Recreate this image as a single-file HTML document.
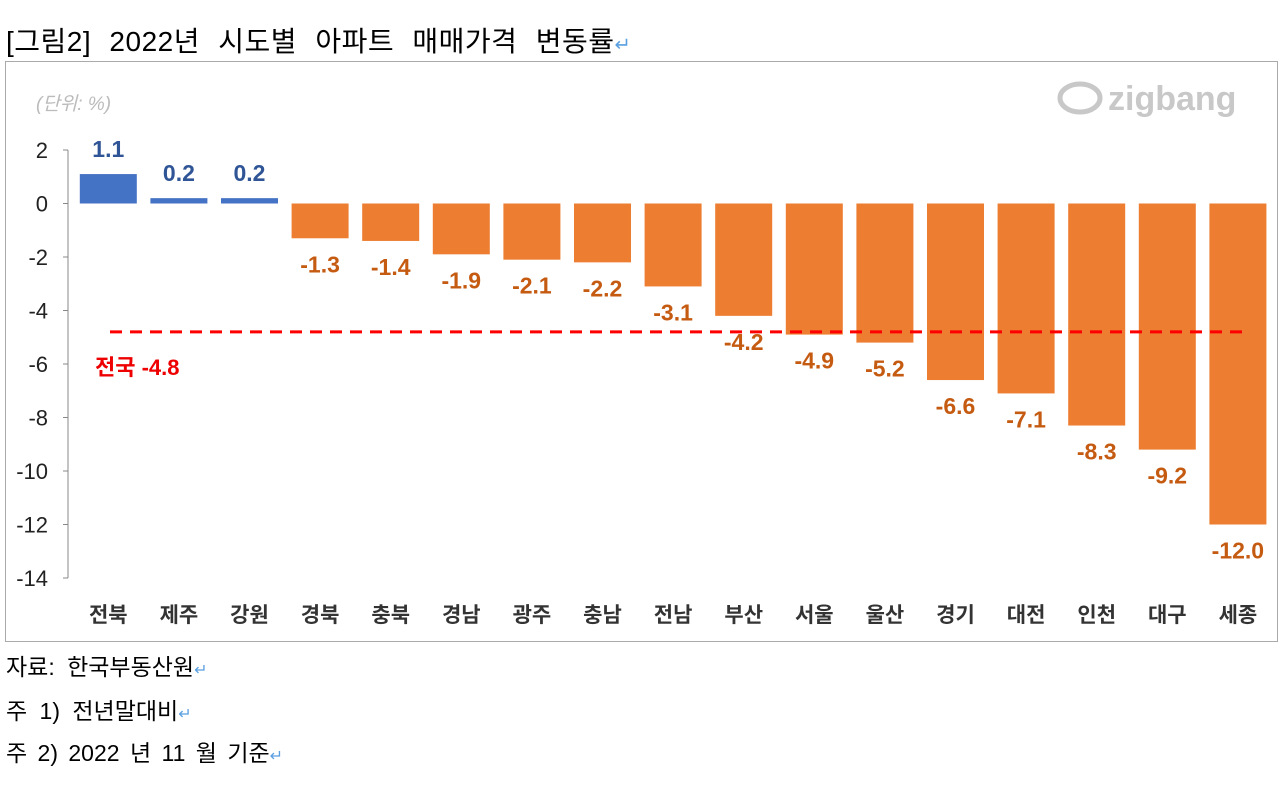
<!DOCTYPE html>
<html><head><meta charset="utf-8"><style>
body{margin:0;background:#fff;width:1284px;height:787px;overflow:hidden;font-family:"Liberation Sans","Noto Sans CJK KR",sans-serif}
.t{position:absolute;left:6px;color:#000;white-space:nowrap}
.ret{color:#5aa0e0;font-size:0.7em}
</style></head><body>
<div class="t" style="top:20px;font-size:28px;word-spacing:10px;letter-spacing:0.5px">[그림2] 2022년 시도별 아파트 매매가격 변동률<span class="ret">↵</span></div>
<svg width="1284" height="787" style="position:absolute;left:0;top:0">
<rect x="5.5" y="61.5" width="1272" height="580" fill="none" stroke="#aaa"/>
<g id="g"></g>
</svg>
<div class="t" style="top:648px;font-size:23px;word-spacing:6px">자료: 한국부동산원<span class="ret">↵</span></div>
<div class="t" style="top:692px;font-size:23px;word-spacing:6px">주 1) 전년말대비<span class="ret">↵</span></div>
<div class="t" style="top:734px;font-size:23px;word-spacing:4px">주 2) 2022 년 11 월 기준<span class="ret">↵</span></div>
<script>
const categories=["전북","제주","강원","경북","충북","경남","광주","충남","전남","부산","서울","울산","경기","대전","인천","대구","세종"];
const values=[1.1,0.2,0.2,-1.3,-1.4,-1.9,-2.1,-2.2,-3.1,-4.2,-4.9,-5.2,-6.6,-7.1,-8.3,-9.2,-12.0];
const ticks=[2,0,-2,-4,-6,-8,-10,-12,-14];
const nationalAvg=-4.8;
const NS="http://www.w3.org/2000/svg",g=document.getElementById('g');
const y0=150,pxu=26.75,yMax=2;
const y=v=>y0+(yMax-v)*pxu;
const left=73,band=70.6,bw=57;
const x=i=>left+band*i+band/2;
function mk(t,a,txt){const e=document.createElementNS(NS,t);for(const k in a)e.setAttribute(k,a[k]);if(txt!==undefined)e.textContent=txt;g.appendChild(e);return e;}
let e=mk('line',{x1:68,y1:y(2),x2:68,y2:y(-14),stroke:'#888'});


ticks.forEach(t=>{
 let l=mk('line',{x1:63,x2:68,y1:y(t),y2:y(t),stroke:'#888'});
 
 
 let tx=mk('text',{x:48,y:y(t)+8,'text-anchor':'end','font-size':22,fill:'#222'},t);
 
 
});
let u=mk('text',{x:36,y:110,'font-size':19,'font-style':'italic',fill:'#bbb'},'(단위: %)');


let lg=mk('text',{x:1108,y:110,'font-size':34,fill:'#c8c8c8','font-weight':'bold'},'zigbang');


let lc=mk('ellipse',{cx:1080,cy:98,rx:20,ry:14,fill:'none',stroke:'#c8c8c8','stroke-width':5});


values.forEach((v,i)=>{
 const pos=v>=0,c=pos?'#4472c4':'#ed7d31';
 let r=mk('rect',{x:x(i)-bw/2,y:Math.min(y(v),y(0)),width:bw,height:Math.abs(y(v)-y(0)),fill:c});
 
 
 let t=mk('text',{x:x(i),y:pos?y(v)-17:y(v)+34,'text-anchor':'middle','font-size':23,'font-weight':'bold',fill:pos?'#2f5597':'#c55a11'},v.toFixed(1));
 
 
 let c2=mk('text',{x:x(i),y:622,'text-anchor':'middle','font-size':21,'font-weight':'bold',fill:'#333'},categories[i]);
 
 
});
let d=mk('line',{x1:110,x2:1242,y1:y(nationalAvg),y2:y(nationalAvg),stroke:'#f00','stroke-width':3,'stroke-dasharray':'12 8'});


let dl=mk('text',{x:95,y:y(nationalAvg)+43,'font-size':22,'font-weight':'bold',fill:'#e00'},'전국 '+nationalAvg.toFixed(1));


</script>
</body></html>
